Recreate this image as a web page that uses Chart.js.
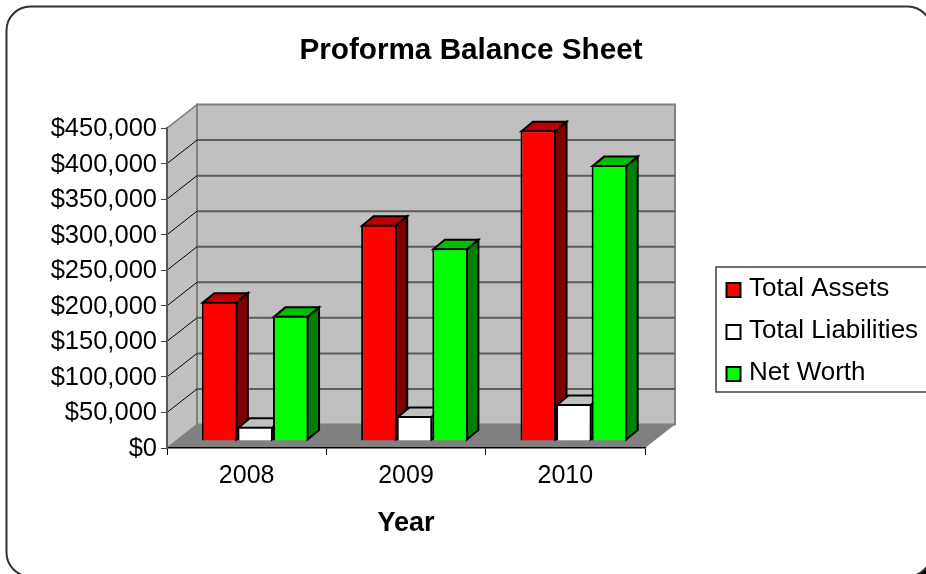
<!DOCTYPE html>
<html>
<head>
<meta charset="utf-8">
<style>html,body{margin:0;padding:0;background:#fff;overflow:hidden}canvas{display:block}</style>
<script src="https://cdn.jsdelivr.net/npm/chart.js@4"></script>
</head>
<body>
<canvas id="c" width="926" height="574"></canvas>
<script>
const categories = ['2008', '2009', '2010'];
const totalAssets = [196000, 304000, 437000];
const totalLiabilities = [20000, 35000, 52000];
const netWorth = [176000, 271000, 388000];
const chartTitle = 'Proforma Balance Sheet';
const xTitle = 'Year';
const FONT = '"Liberation Sans", Arial, sans-serif';

const DEPTH = {wallX: 30, wallY: -23.5, barShiftX: 8.5, barShiftY: -7, barX: 11.5, barY: -9.5};
const faces = [
  {fill: '#ff0000', top: '#c00000', side: '#800000'},
  {fill: '#ffffff', top: '#c0c0c0', side: '#808080'},
  {fill: '#00ff00', top: '#00c000', side: '#008000'}
];
const LEG = {l: 716, t: 267, r: 932, b: 392, mx: 726, ms: 14, tx: 749, rows: [287, 329, 371]};

function poly(ctx, pts, fill, stroke, lw) {
  ctx.beginPath();
  pts.forEach((p, i) => i ? ctx.lineTo(p[0], p[1]) : ctx.moveTo(p[0], p[1]));
  ctx.closePath();
  if (fill) { ctx.fillStyle = fill; ctx.fill(); }
  if (stroke) { ctx.strokeStyle = stroke; ctx.lineWidth = lw; ctx.stroke(); }
}

const scene3d = {
  id: 'scene3d',
  afterLayout(chart) {
    chart.titleBlock.left = 16;
    chart.titleBlock.right = 926;
  },
  beforeDraw(chart) {
    const ctx = chart.ctx, a = chart.chartArea, ys = chart.scales.y;
    const dx = DEPTH.wallX, dy = DEPTH.wallY;
    ctx.save();
    // frame
    ctx.fillStyle = '#000';
    ctx.beginPath(); ctx.roundRect(11.5, 11.5, 925, 570, 24); ctx.fill();
    ctx.beginPath(); ctx.roundRect(6.5, 6.5, 925, 570, 24);
    ctx.fillStyle = '#fff'; ctx.fill();
    ctx.strokeStyle = '#333'; ctx.lineWidth = 2; ctx.stroke();
    // walls
    poly(ctx, [[a.left, a.top], [a.left + dx, a.top + dy], [a.left + dx, a.bottom + dy], [a.left, a.bottom]], '#c0c0c0', '#808080', 1.5);
    poly(ctx, [[a.left + dx, a.top + dy], [a.right + dx, a.top + dy], [a.right + dx, a.bottom + dy], [a.left + dx, a.bottom + dy]], '#c0c0c0', '#808080', 2);
    poly(ctx, [[a.left, a.bottom], [a.right, a.bottom], [a.right + dx, a.bottom + dy], [a.left + dx, a.bottom + dy]], '#808080', null);
    ys.ticks.forEach(t => {
      const y = ys.getPixelForValue(t.value);
      if (y <= a.top + 0.5 || y >= a.bottom - 0.5) return;
      ctx.strokeStyle = '#5c5c5c'; ctx.lineWidth = 2;
      ctx.beginPath(); ctx.moveTo(a.left + dx, y + dy); ctx.lineTo(a.right + dx, y + dy); ctx.stroke();
      ctx.strokeStyle = '#000'; ctx.lineWidth = 1;
      ctx.beginPath(); ctx.moveTo(a.left, y); ctx.lineTo(a.left + dx, y + dy); ctx.stroke();
    });
    ctx.restore();
  },
  // Paint back to front: each bar's depth faces, then the bar itself, first series first.
  beforeDatasetsDraw(chart) {
    const ctx = chart.ctx;
    ctx.save();
    ctx.translate(DEPTH.barShiftX, DEPTH.barShiftY);
    chart.data.datasets.forEach((d, i) => {
      const meta = chart.getDatasetMeta(i), f = faces[i];
      meta.data.forEach(b => {
        const p = b.getProps(['x', 'y', 'base', 'width'], true);
        const L = p.x - p.width / 2 + 1, R = p.x + p.width / 2 - 1, T = p.y + 1, B = p.base - 1;
        ctx.lineJoin = 'miter';
        poly(ctx, [[R, T], [R + DEPTH.barX, T + DEPTH.barY], [R + DEPTH.barX, B + DEPTH.barY], [R, B]], f.side, '#000', 2);
        poly(ctx, [[L, T], [L + DEPTH.barX, T + DEPTH.barY], [R + DEPTH.barX, T + DEPTH.barY], [R, T]], f.top, '#000', 2);
      });
      meta.controller.draw();
    });
    ctx.restore();
  },
  beforeDatasetDraw() { return false; },
  afterDraw(chart) {
    const ctx = chart.ctx;
    ctx.save();
    ctx.fillStyle = '#fff'; ctx.strokeStyle = '#404040'; ctx.lineWidth = 1.5;
    ctx.beginPath(); ctx.rect(LEG.l, LEG.t, LEG.r - LEG.l, LEG.b - LEG.t); ctx.fill(); ctx.stroke();
    chart.data.datasets.forEach((d, i) => {
      const y = LEG.rows[i];
      ctx.fillStyle = d.backgroundColor; ctx.strokeStyle = '#000'; ctx.lineWidth = 2;
      ctx.beginPath(); ctx.rect(LEG.mx + 0.5, y - 4, LEG.ms, LEG.ms); ctx.fill(); ctx.stroke();
      ctx.fillStyle = '#000'; ctx.font = '26px ' + FONT; ctx.textBaseline = 'middle'; ctx.textAlign = 'left';
      ctx.fillText(d.label, LEG.tx, y + 2);
    });
    ctx.restore();
  }
};

const barBase = {borderColor: '#000', borderWidth: 2, categoryPercentage: 0.67, barPercentage: 1};

new Chart(document.getElementById('c'), {
  type: 'bar',
  data: {
    labels: categories,
    datasets: [
      {...barBase, label: 'Total Assets', data: totalAssets, backgroundColor: faces[0].fill},
      {...barBase, label: 'Total Liabilities', data: totalLiabilities, backgroundColor: faces[1].fill},
      {...barBase, label: 'Net Worth', data: netWorth, backgroundColor: faces[2].fill}
    ]
  },
  plugins: [scene3d],
  options: {
    responsive: false,
    animation: false,
    devicePixelRatio: 1,
    layout: {padding: {left: 0, right: 281, top: 0, bottom: 0}},
    plugins: {
      legend: {display: false},
      tooltip: {enabled: false},
      title: {
        display: true, text: chartTitle, color: '#000',
        font: {family: FONT, size: 29.7, weight: 'bold', lineHeight: 1.2},
        padding: {top: 33, bottom: 59.4}
      }
    },
    scales: {
      x: {
        afterFit(s) { s.height = 126; },
        grid: {drawOnChartArea: false, drawTicks: true, tickLength: 7, color: '#000', lineWidth: 1},
        border: {display: true, color: '#000', width: 1.5},
        ticks: {color: '#000', font: {family: FONT, size: 25}, padding: 6, maxRotation: 0},
        title: {display: true, text: xTitle, color: '#000', font: {family: FONT, size: 27, weight: 'bold', lineHeight: 1.2}, padding: {top: 0, bottom: 34}}
      },
      y: {
        min: 0, max: 450000,
        afterFit(s) { s.width = 167; },
        grid: {drawOnChartArea: false, drawTicks: true, tickLength: 6, color: '#404040', lineWidth: 1},
        border: {display: true, color: '#555', width: 2},
        ticks: {
          stepSize: 50000, color: '#000', padding: 4, labelOffset: 1,
          font: {family: FONT, size: 25.5},
          callback: v => '$' + Number(v).toLocaleString('en-US')
        }
      }
    }
  }
});
</script>
</body>
</html>
